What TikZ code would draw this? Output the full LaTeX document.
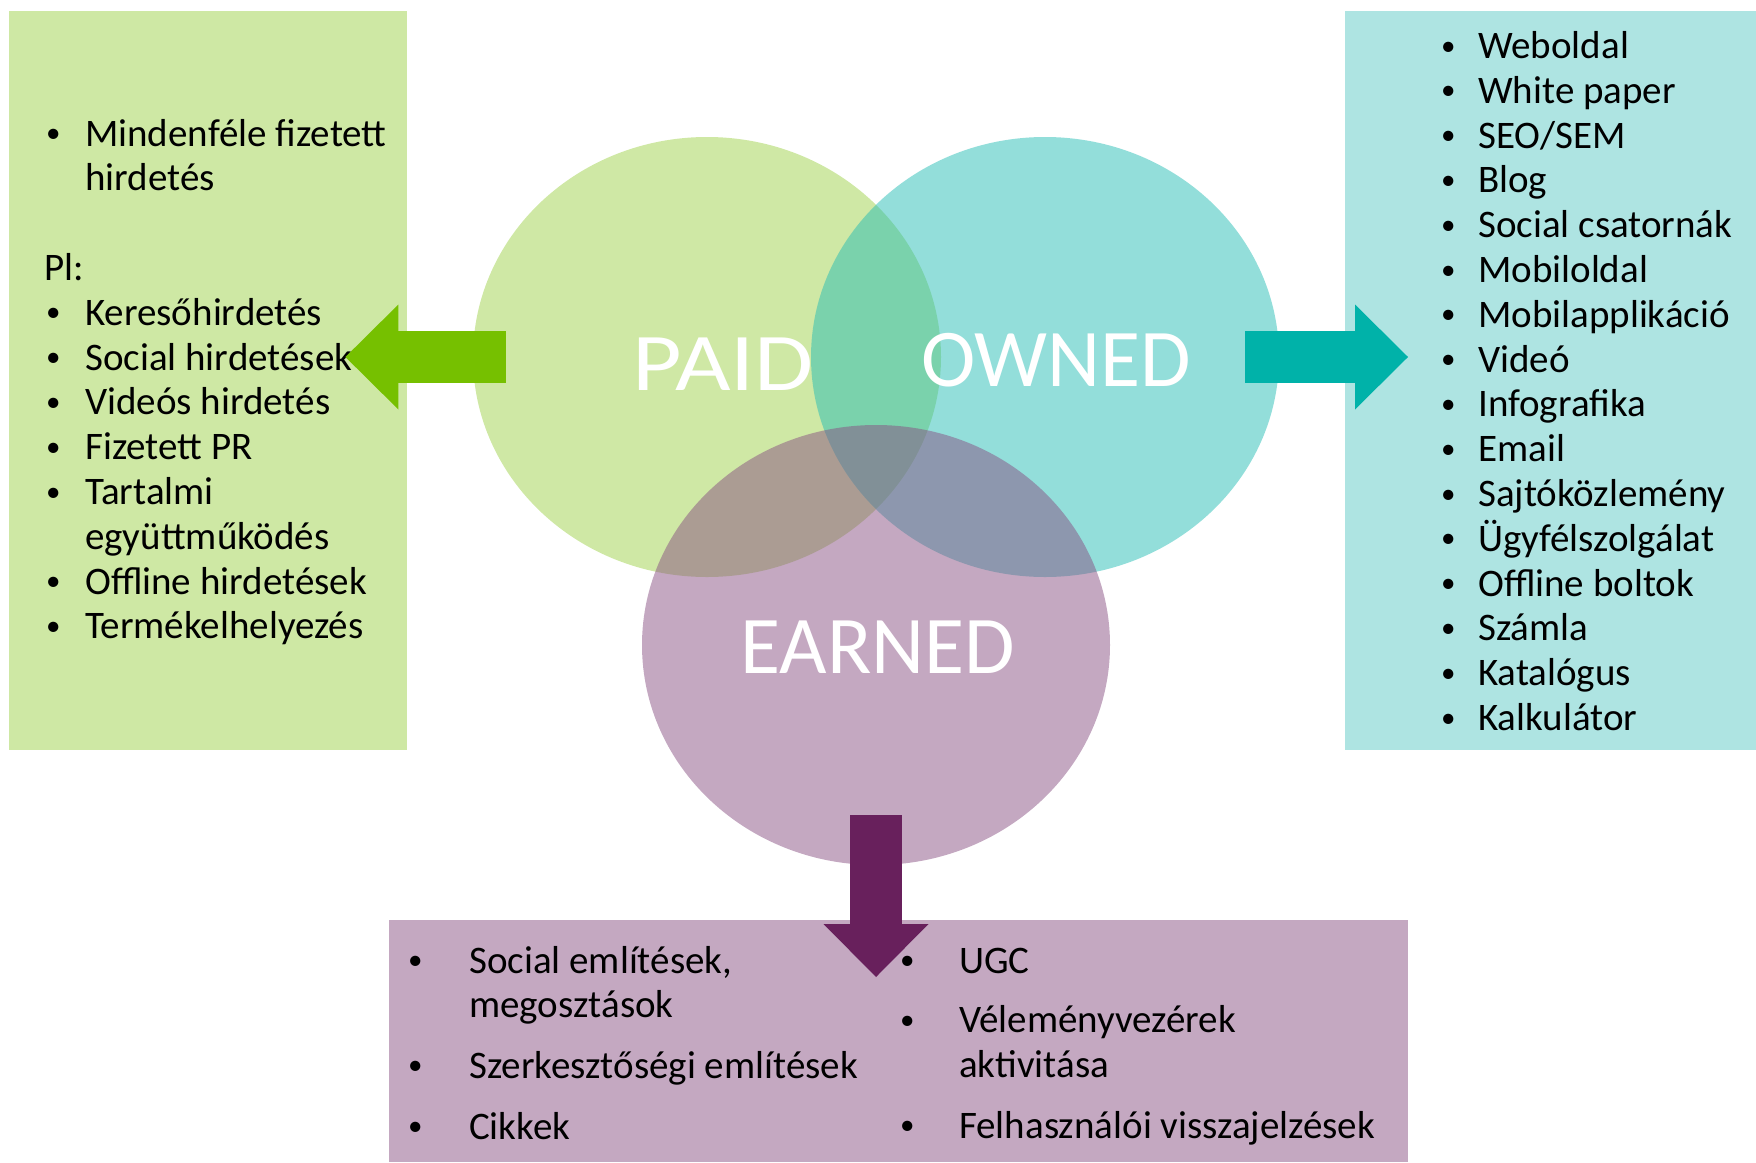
\documentclass[tikz,border=0pt]{standalone}
\usepackage{fontspec}
\setmainfont{Carlito}
\usepackage{tikz}
\usetikzlibrary{shapes.geometric, arrows.meta, positioning, calc}
\definecolor{paidfill}{RGB}{159,209,75}
\definecolor{ownedfill}{RGB}{39,189,181}
\definecolor{earnedfill}{RGB}{137,81,131}
\definecolor{paidbg}{RGB}{206,232,164}
\definecolor{ownedbg}{RGB}{174,228,226}
\definecolor{earnedbg}{RGB}{196,168,193}
\definecolor{paidarrow}{RGB}{118,192,0}
\definecolor{ownedarrow}{RGB}{0,178,169}
\definecolor{earnedarrow}{RGB}{104,32,92}
\newcommand{\smallbullet}{{\fontsize{29}{29}\selectfont\raisebox{3.4pt}{\hspace*{2pt}\textbullet}}}
\newcommand{\bitem}[2][39pt]{\strut\makebox[#1][l]{\smallbullet}#2}
\newcommand{\bcont}[2][39pt]{\strut\hspace*{#1}#2}
\tikzset{
    venn/.style={
        ellipse,
        inner sep=0pt,
        fill opacity=0.5,
        minimum width=468pt,
        minimum height=440pt
    },
    listbox/.style={
        rectangle,
        inner sep=0pt,
        anchor=north west
    },
    listtext/.style={
        inner sep=0pt,
        anchor=north west,
        align=left,
        font=\fontsize{39}{44.8}\selectfont
    },
    vennlabel/.style={
        text=white,
        anchor=base,
        inner sep=0pt,
        font=\fontsize{82}{90}\selectfont
    },
    blockarrow/.style={
        line width=52pt,
        -{Triangle[length=53pt, width=105pt, line width=0pt]}
    }
}
\begin{document}
\begin{tikzpicture}[x=1pt, y=-1pt]
\useasboundingbox (0,0) rectangle (1756,1162);

% Boxes
\node[listbox, fill=paidbg, minimum width=398pt, minimum height=739pt] (paidbox) at (9,11) {};
\node[listbox, fill=ownedbg, minimum width=411pt, minimum height=739pt] (ownedbox) at (1345,11) {};
\node[listbox, fill=earnedbg, minimum width=1019pt, minimum height=242pt] (earnedbox) at (389,920) {};

% Venn
\node[venn, fill=paidfill] (paid) at (707,357) {};
\node[venn, fill=ownedfill] (owned) at (1045,357) {};
\node[venn, fill=earnedfill] (earned) at (876,645) {};

\node[vennlabel] (paidlabel) at ([xshift=16pt, yshift=-33pt]paid.center) {\scalebox{1.17}[1]{PAID}};
\node[vennlabel] (ownedlabel) at ([xshift=11pt, yshift=-29pt]owned.center) {OWNED};
\node[vennlabel] (earnedlabel) at ([xshift=2pt, yshift=-28pt]earned.center) {EARNED};

% Lists
\node[listtext] (paidlist) at ([xshift=35pt, yshift=-103.6pt]paidbox.north west) {
\bitem[41pt]{Mindenféle fizetett}\\
\bcont[41pt]{hirdetés}\\
\strut\\
\strut Pl:\\
\bitem[41pt]{Keresőhirdetés}\\
\bitem[41pt]{Social hirdetések}\\
\bitem[41pt]{Videós hirdetés}\\
\bitem[41pt]{Fizetett PR}\\
\bitem[41pt]{Tartalmi}\\
\bcont[41pt]{együttműködés}\\
\bitem[41pt]{Offline hirdetések}\\
\bitem[41pt]{Termékelhelyezés}};

\node[listtext] (ownedlist) at ([xshift=94pt, yshift=-15.9pt]ownedbox.north west) {
\bitem{Weboldal}\\
\bitem{White paper}\\
\bitem{SEO/SEM}\\
\bitem{Blog}\\
\bitem{Social csatornák}\\
\bitem{Mobiloldal}\\
\bitem{Mobilapplikáció}\\
\bitem{Videó}\\
\bitem{Infografika}\\
\bitem{Email}\\
\bitem{Sajtóközlemény}\\
\bitem{Ügyfélszolgálat}\\
\bitem{Offline boltok}\\
\bitem{Számla}\\
\bitem{Katalógus}\\
\bitem{Kalkulátor}};

\node[listtext] (earnedlistl) at ([xshift=17pt, yshift=-21.6pt]earnedbox.north west) {
\bitem[63pt]{Social említések,}\\
\bcont[63pt]{megosztások}\\[15.5pt]
\bitem[63pt]{Szerkesztőségi említések}\\[16pt]
\bitem[63pt]{Cikkek}};

\node[listtext] (earnedlistr) at ([xshift=509pt, yshift=-21.6pt]earnedbox.north west) {
\bitem[61pt]{UGC}\\[14.5pt]
\bitem[61pt]{Véleményvezérek}\\
\bcont[61pt]{aktivitása}\\[16pt]
\bitem[61pt]{Felhasználói visszajelzések}};

% Arrows
\draw[blockarrow, paidarrow] ([xshift=33pt]paid.west) -- ($(paidbox.east |- paid.west)+(-62,0)$);
\draw[blockarrow, ownedarrow] ([xshift=-34pt]owned.east) -- ($(ownedbox.west |- owned.east)+(63,0)$);
\draw[blockarrow, earnedarrow] ([yshift=50pt]earned.south) -- ($(earned.south |- earnedbox.north)+(0,57)$);

\end{tikzpicture}
\end{document}
